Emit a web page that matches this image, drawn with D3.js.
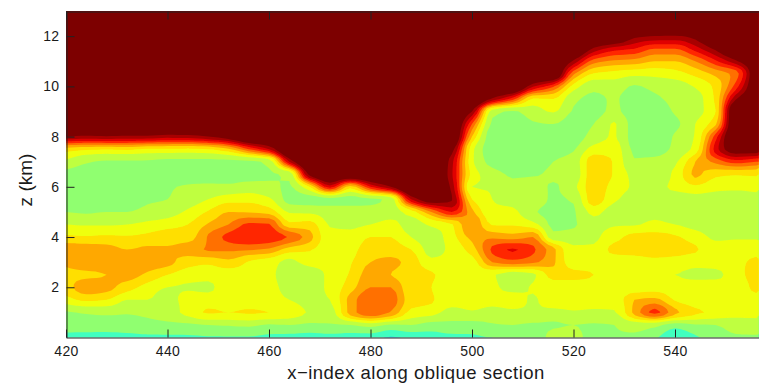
<!DOCTYPE html>
<html><head><meta charset="utf-8">
<script src="https://cdn.jsdelivr.net/npm/d3@7"></script>
<style>html,body{margin:0;padding:0;background:#fff}svg{display:block}text{font-family:"Liberation Sans",Arial,sans-serif;fill:#1a1a1a}</style>
</head><body><svg id="chart" width="759" height="384"></svg>
<script>
// Field sampled at every 4 x-index and every 0.5 km, listed from z=0 upward.
// The value is a contour-level position; columns stop where the saturated region takes over.
const xIndex = d3.range(420, 557, 4);
const zKm = d3.range(0, 13.01, 0.5);
const aboveRidge = 13;
const col420=[1.5,2.6,2.9,4.6,5.5,5.7,6.2,6.6,5.2,4.0,3.0,2.6,2.5,2.7,3.8,5.5,11];
const col424=[1.6,2.5,3.1,5.2,6.6,5.8,6.6,6.5,5.1,3.9,2.9,2.6,2.5,2.6,3.1,5.2,10.8];
const col428=[1.6,2.5,3.2,5.0,6.3,6.0,6.7,6.4,5.2,3.9,3.0,2.6,2.5,2.6,2.9,5.1,10.9];
const col432=[1.7,2.5,3.1,4.0,5.5,6.4,6.8,6.0,5.1,4.0,3.0,2.7,2.5,2.6,2.9,5.2,10.8];
const col436=[1.8,2.6,3.3,4.0,4.6,5.8,6.5,6.2,5.3,4.3,3.2,2.9,2.7,2.7,2.9,4.9,10.8];
const col440=[1.8,2.7,3.6,3.6,4.0,5.0,6.3,6.1,5.6,4.6,3.5,3.0,2.9,2.6,2.8,4.9,10.5];
const col444=[1.8,2.8,4.3,4.4,3.9,4.5,5.4,6.4,5.6,5.0,4.2,3.4,3.1,2.6,2.8,4.8,10.6];
const col448=[1.9,3.0,5.1,4.5,3.8,4.4,5.2,7.1,7.1,6.1,5.1,4.0,3.2,2.6,2.8,5.0,11];
const col452=[1.9,3.1,5.0,4.5,4.6,4.6,5.7,7.2,8.3,7.0,6.0,4.6,3.2,2.6,2.8,5.8,11.8];
const col456=[1.9,3.2,5.1,4.5,4.6,4.6,4.9,7.1,8.8,8.2,5.9,4.7,3.4,2.7,2.8,8,13];
const col460=[1.7,2.9,5.0,4.4,4.4,4.3,4.5,6.8,8.6,8.1,5.6,4.2,3.2,2.9,3.3,10,13];
const col464=[1.6,3.0,4.6,4.0,3.6,3.4,3.7,5.5,7.9,5.3,3.9,2.7,2.9,3.2,10,13];
const col468=[1.5,2.8,3.9,3.7,3.5,3.4,4.4,5.1,6.4,5.4,3.8,2.6,5,11.5,13];
const col472=[1.6,2.9,3.6,4.0,4.3,4.3,4.4,4.4,4.3,3.9,3.5,2.6,9.5,13];
const col476=[1.5,3.0,6.4,6.4,5.5,5.1,4.9,4.6,4.3,3.8,3.4,2.7,5.5,13];
const col480=[1.4,3.4,7.8,7.8,7.0,6.5,6.0,5.6,5.0,4.0,3.4,2.8,9,13];
const col484=[0.9,2.9,6.9,7.6,7.0,6.0,6.2,5.5,5.0,4.3,3.6,3.3,11,13];
const col488=[1.2,3.0,4.7,5.4,5.2,5.5,5.6,5.0,4.0,3.6,4.5,10,13];
const col492=[1.5,2.6,4.4,5.1,5.0,5.1,4.3,3.6,3.5,4.2,7,12,13];
const col496=[1.7,2.7,3.6,4.4,4.5,4.6,4.4,4.3,4.6,4.9,9,11.1,10.7,10.2,10.4,11.6,13];
const col500=[1.8,2.6,3.9,4.4,4.5,4.4,4.6,5.5,6.3,6.9,6.3,5.0,4.0,4.6,4.2,4.3,6,8,11,13];
const col504=[2.0,2.9,3.6,4.3,4.2,4.1,7.0,8.2,6.8,4.9,4.2,4.0,3.9,3.4,2.7,2.5,2.5,2.8,3.4,10.8,13];
const col508=[2.0,3.0,3.8,4.4,3.7,3.5,7.6,9.1,6.5,4.9,4.2,3.7,3.2,2.9,2.5,2.5,2.5,2.6,2.9,8.5,13];
const col512=[2.0,2.8,3.9,3.9,4.1,3.8,7.2,8.2,7.0,4.4,3.1,3.5,3.4,2.9,2.5,2.5,2.6,2.9,3.5,4.9,10.2,13];
const col516=[3.5,2.9,3.7,4.5,4.6,5.4,6.2,6.3,3.4,2.8,2.8,2.9,2.9,3.2,3.0,2.6,2.6,3.0,4.1,5.0,8.2,13];
const col520=[3.5,3.0,3.9,4.4,4.5,5.3,4.4,4.2,3.5,2.9,2.9,3.1,3.7,3.3,3.4,2.9,2.6,2.6,2.9,3.2,4.6,7.2,10.8,13];
const col524=[2.4,2.9,3.8,4.4,4.5,5.0,4.5,4.2,3.8,3.7,4.3,5.6,5.6,5.7,5.6,4.4,3.4,3.0,2.7,2.8,3.3,4.9,7.5,10.8,13];
const col528=[2.9,3.0,3.9,4.3,4.4,4.4,4.4,5.3,4.6,3.9,3.5,4.2,4.6,4.9,4.9,4.5,4.1,4.1,3.2,3.1,3.5,4.6,6.8,9.5,13];
const col532=[2.8,3.4,6.3,6.0,4.4,4.4,4.5,5.4,5.3,3.9,3.4,3.6,3.9,3.7,3.1,2.8,2.6,2.6,2.5,2.5,2.9,4.3,6.6,9,11.3,13];
const col536=[2.2,3.3,8.3,6.3,4.5,4.0,4.7,5.4,5.3,4.3,3.7,3.7,3.8,3.5,3.2,2.7,2.5,2.5,2.5,2.8,3.3,4.3,6.0,8.0,11,13];
const col540=[1.0,2.5,6.3,4.9,4.4,4.0,4.6,5.3,5.1,4.0,3.2,3.4,4.2,4.2,3.8,3.2,3.1,2.8,3.1,3.3,3.5,4.6,6.0,8.0,10.9,13];
const col544=[1.8,2.9,5.2,4.5,4.4,3.8,4.3,5.1,4.6,3.6,3.4,3.6,4.8,6.2,6.0,4.4,4.1,4.0,3.6,3.6,4.1,5.3,7.0,9.5,11.5,13];
const col548=[2.6,3.0,4.8,4.4,4.4,3.8,4.3,4.4,3.8,3.4,3.3,3.6,4.3,5.3,7.3,9.5,8.5,5.8,5.0,5.2,5.3,6.3,8.8,11.3,13];
const col552=[2.9,3.3,4.4,4.5,4.4,4.6,4.7,4.4,3.9,3.4,3.3,3.6,4.2,5.1,8.5,12,13,13,13,10.9,8.5,7.5,10.8,13];
const col556=[2.9,3.4,4.4,4.5,5.4,5.5,5.3,4.5,3.9,3.5,3.4,3.7,4.3,5.2,8.0,12,13];
const columns=[col420,col424,col428,col432,col436,col440,col444,col448,col452,col456,col460,col464,col468,col472,col476,col480,col484,col488,col492,col496,col500,col504,col508,col512,col516,col520,col524,col528,col532,col536,col540,col544,col548,col552,col556];
const levelColors=["#00b8ff","#40ffbf","#90ff70","#bfff40","#efff10","#ffdf00","#ffa800","#ff7000","#ff2800","#e00000","#a80000","#7d0000"];
const xTicks=[420,440,460,480,500,520,540];
const zTicks=[2,4,6,8,10,12];
const xLabel="x\u2212index along oblique section";
const zLabel="z (km)";

const svg=d3.select("#chart");
const x=d3.scaleLinear().domain([420,556.55]).range([66,759]);
const y=d3.scaleLinear().domain([0,13]).range([337.5,11]);
const nx=xIndex.length, nz=zKm.length;
const grid=columns.map(c=>zKm.map((_,j)=>j<c.length?c[j]:aboveRidge));

// Shape-preserving drawing of the contour surface between the read samples.
const sub=4;
function refine(a){
  const n=a.length, d=a.slice(1).map((v,i)=>v-a[i]), m=new Array(n).fill(0);
  m[0]=d[0]; m[n-1]=d[n-2];
  for(let i=1;i<n-1;i++) m[i]=d[i-1]*d[i]<=0?0:2*d[i-1]*d[i]/(d[i-1]+d[i]);
  const out=[];
  for(let i=0;i<n-1;i++) for(let k=0;k<sub;k++){
    const t=k/sub,t2=t*t,t3=t2*t;
    out.push((2*t3-3*t2+1)*a[i]+(t3-2*t2+t)*m[i]+(3*t2-2*t3)*a[i+1]+(t3-t2)*m[i+1]);
  }
  out.push(a[n-1]);
  return out;
}
const byCol=grid.map(refine);
const NZ=byCol[0].length;
const byRow=d3.range(NZ).map(j=>refine(byCol.map(c=>c[j])));
const NX=byRow[0].length;
const flat=byRow.flat();
const thresholds=d3.range(1,levelColors.length);
const contours=d3.contours().size([NX,NZ]).thresholds(thresholds).smooth(true)(flat);
const dx=(xIndex[1]-xIndex[0])/sub, dz=(zKm[1]-zKm[0])/sub;
const path=d3.geoPath(d3.geoTransform({point(px,py){
  this.stream.point(x(xIndex[0]+(px-0.5)*dx), y(zKm[0]+(py-0.5)*dz));
}}));
const defs=svg.append("defs");
defs.append("clipPath").attr("id","plot").append("rect")
  .attr("x",66).attr("y",11).attr("width",693).attr("height",326.5);
defs.append("filter").attr("id","soft").attr("x",0).attr("y",0).attr("width",1).attr("height",1)
  .append("feGaussianBlur").attr("stdDeviation",0.45);
const g=svg.append("g").attr("clip-path","url(#plot)").append("g").attr("filter","url(#soft)");
g.append("rect").attr("x",60).attr("y",5).attr("width",705).attr("height",340).attr("fill",levelColors[0]);
g.selectAll("path").data(contours).join("path")
  .attr("d",path).attr("fill",(d,i)=>levelColors[i+1]);

// Axes
const axisColor="#222";
function styleAxis(s){s.selectAll(".domain").attr("stroke",axisColor);s.selectAll("line").attr("stroke",axisColor);s.selectAll("text").attr("font-size",14).attr("letter-spacing",0.4).attr("font-family",'"Liberation Sans",Arial,sans-serif').attr("fill","#1a1a1a");}
svg.append("g").attr("transform","translate(0,337.5)")
  .call(d3.axisBottom(x).tickValues(xTicks).tickSize(-8).tickPadding(8.5).tickSizeOuter(0)).call(styleAxis);
svg.append("g").attr("transform","translate(0,11.5)")
  .call(d3.axisTop(x).tickValues(xTicks).tickSize(-8).tickFormat("").tickSizeOuter(0)).call(styleAxis);
svg.append("g").attr("transform","translate(66.5,0)")
  .call(d3.axisLeft(y).tickValues(zTicks).tickSize(-8).tickPadding(7).tickSizeOuter(0)).call(styleAxis);
svg.append("text").attr("x",416).attr("y",379).attr("text-anchor","middle").attr("font-size",18.5).attr("letter-spacing",0.5).text(xLabel);
svg.append("text").attr("transform","translate(32,180) rotate(-90)").attr("text-anchor","middle").attr("font-size",19).text(zLabel);
</script></body></html>
